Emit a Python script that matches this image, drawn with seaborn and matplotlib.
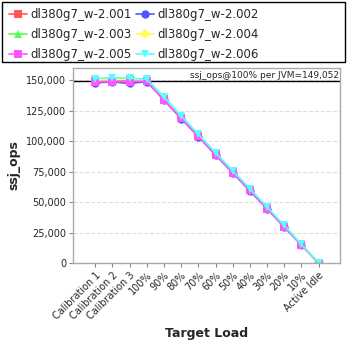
import matplotlib
matplotlib.use("Agg")
import matplotlib.pyplot as plt
import seaborn as sns
import pandas as pd
from matplotlib.patches import Rectangle

categories = ["Calibration 1", "Calibration 2", "Calibration 3", "100%", "90%", "80%",
              "70%", "60%", "50%", "40%", "30%", "20%", "10%", "Active Idle"]

s001 = [149500, 149000, 149800, 149300, 134500, 119200, 104300, 89300, 74500, 59800, 44800, 29800, 14900, 0]
s002 = [147800, 148600, 147300, 148900, 133600, 118500, 103700, 88700, 74000, 59200, 44500, 29500, 14800, 0]
s003 = [150500, 150800, 150900, 150200, 135500, 120200, 105000, 90000, 75200, 60500, 45400, 30200, 15100, 0]
s004 = [150200, 150500, 150600, 150000, 135200, 120000, 104800, 89800, 75000, 60300, 45200, 30100, 15100, 0]
s005 = [148700, 148800, 148900, 149100, 133900, 118800, 103900, 88900, 74200, 59500, 44600, 29600, 14800, 0]
s006 = [151300, 152000, 151700, 150700, 136300, 120800, 105600, 90600, 75700, 61000, 45900, 30800, 15300, 0]

names = ["dl380g7_w-2.001", "dl380g7_w-2.002", "dl380g7_w-2.003",
         "dl380g7_w-2.004", "dl380g7_w-2.005", "dl380g7_w-2.006"]
series = [s001, s002, s003, s004, s005, s006]
colors = ["#FF5555", "#5555FF", "#55FF55", "#FFFF55", "#FF55FF", "#55FFFF"]
markers = ["s", "o", "^", "D", "s", "v"]
ref_value = 149052

rows = []
for n, s in zip(names, series):
    for c, v in zip(categories, s):
        rows.append({"series": n, "load": c, "ssj_ops": v})
df = pd.DataFrame(rows)

sns.set_style("white")
plt.rcParams["font.family"] = ["DejaVu Sans"]

fig = plt.figure(figsize=(3.48, 3.48), dpi=100)
ax = fig.add_axes([73/348, 1-263/348, (340-73)/348, (263-68)/348])

for n, col, m in zip(names, colors, markers):
    sub = df[df["series"] == n]
    sns.lineplot(data=sub, x="load", y="ssj_ops", sort=False, color=col, marker=m,
                 markersize=6 if m != "D" else 5, markeredgewidth=0, linewidth=1.2,
                 label=n, ax=ax, legend=False)

ax.axhline(ref_value, color="black", linewidth=1, zorder=1)
ax.set_ylim(0, 160000)
ax.set_xlim(-1.3, len(categories) - 1 + 1.25)
ax.set_yticks([0, 25000, 50000, 75000, 100000, 125000, 150000])
ax.set_yticklabels([f"{v:,}" for v in [0, 25000, 50000, 75000, 100000, 125000, 150000]], fontsize=7)
ax.set_xticks(range(len(categories)))
ax.set_xticklabels(categories, rotation=45, ha="right", rotation_mode="anchor", fontsize=7)
ax.yaxis.grid(True, color="#dddddd", linestyle="--", linewidth=0.8)
ax.xaxis.grid(False)
for sp in ax.spines.values():
    sp.set_color("#aaaaaa")
    sp.set_linewidth(1)
ax.tick_params(axis="both", length=3, color="#888888", pad=2, direction="out", bottom=True, left=True)
ax.set_xlabel("Target Load", fontsize=9, fontweight="bold")
ax.set_ylabel("ssj_ops", fontsize=9, fontweight="bold")
ax.text(0.995, 0.985, f"ssj_ops@100% per JVM={ref_value:,}", transform=ax.transAxes,
        ha="right", va="top", fontsize=6.5)

handles, labels = ax.get_legend_handles_labels()
order = [0, 2, 4, 1, 3, 5]
leg = fig.legend([handles[i] for i in order], [labels[i] for i in order], ncol=2,
                 loc="upper left", bbox_to_anchor=(0.012, 0.99),
                 frameon=False, fontsize=8.5, handlelength=1.5, handletextpad=0.3,
                 columnspacing=0.4, labelspacing=0.6, borderaxespad=0)
fig.patches.append(Rectangle((2/348, 1-62/348), 343/348, 60/348, transform=fig.transFigure,
                             fill=False, edgecolor="black", linewidth=1))

fig.savefig("out.png", dpi=100)
